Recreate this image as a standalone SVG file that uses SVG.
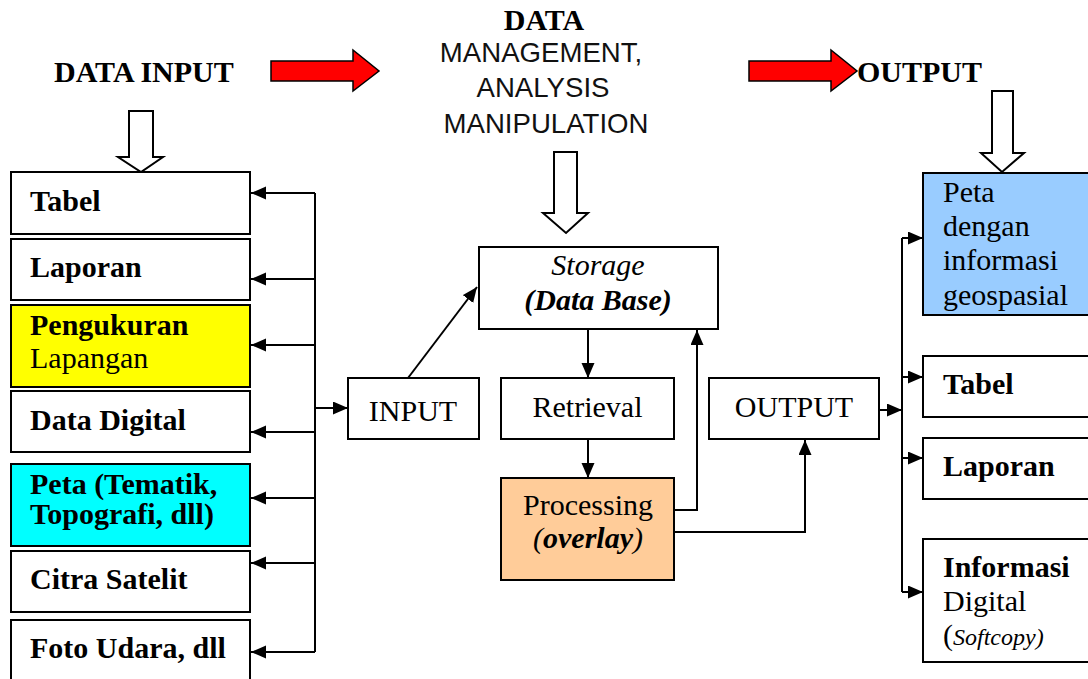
<svg xmlns="http://www.w3.org/2000/svg" width="1088" height="679" viewBox="0 0 1088 679">
  <style>
    .box { fill: #ffffff; stroke: #000000; stroke-width: 2; }
    .yellow { fill: #ffff00; }
    .cyan { fill: #00ffff; }
    .blue { fill: #99ccff; }
    .peach { fill: #ffcc99; }
    .t { font-family: "Liberation Serif", "Times New Roman", serif; font-size: 30px; fill: #000000; }
    .b { font-weight: bold; }
    .i { font-style: italic; }
    .s { font-family: "Liberation Sans", Arial, sans-serif; font-size: 27.6px; fill: #111111; }
    .conn { fill: none; stroke: #000000; stroke-width: 2; }
    .red { fill: #ff0000; stroke: #000000; stroke-width: 1.5; stroke-linejoin: miter; }
    .hollow { fill: #ffffff; stroke: #000000; stroke-width: 2; stroke-linejoin: miter; }
  </style>
  <defs>
    <marker id="ah" markerUnits="userSpaceOnUse" markerWidth="16" markerHeight="14" refX="15" refY="6.5" orient="auto">
      <path d="M0,0 L15,6.5 L0,13 Z" fill="#000000"/>
    </marker>
  </defs>

  <rect width="1088" height="679" fill="#ffffff"/>

  <!-- headings -->
  <g id="headings">
    <text class="t b" x="54" y="82">DATA INPUT</text>
    <text class="t b" x="544" y="30" text-anchor="middle">DATA</text>
    <text class="s" x="541" y="62" text-anchor="middle">MANAGEMENT,</text>
    <text class="s" x="543" y="97" text-anchor="middle">ANALYSIS</text>
    <text class="s" x="546" y="133" text-anchor="middle">MANIPULATION</text>
    <text class="t b" x="857" y="82">OUTPUT</text>
  </g>

  <!-- block arrows -->
  <g id="block-arrows">
    <polygon class="red" points="271,61 353,61 353,50 379,71 353,91 353,81 271,81"/>
    <polygon class="red" points="749,61 831,61 831,50 857,71 831,91 831,81 749,81"/>
    <polygon class="hollow" points="129,111 153,111 153,157 163,157 141,172 118,157 129,157"/>
    <polygon class="hollow" points="554,152 577,152 577,213 588,213 566,233 543,213 554,213"/>
    <polygon class="hollow" points="992,91 1013,91 1013,153 1024,153 1002,172 981,153 992,153"/>
  </g>

  <!-- input sources -->
  <g id="in-tabel">
    <rect class="box" x="11" y="172" width="239" height="62"/>
    <text class="t b" x="30" y="211">Tabel</text>
  </g>
  <g id="in-laporan">
    <rect class="box" x="11" y="239" width="239" height="61"/>
    <text class="t b" x="30" y="277">Laporan</text>
  </g>
  <g id="in-pengukuran">
    <rect class="box yellow" x="11" y="305" width="239" height="82"/>
    <text class="t b" x="30" y="335">Pengukuran</text>
    <text class="t" x="30" y="368">Lapangan</text>
  </g>
  <g id="in-digital">
    <rect class="box" x="11" y="391" width="239" height="61"/>
    <text class="t b" x="30" y="430">Data Digital</text>
  </g>
  <g id="in-peta">
    <rect class="box cyan" x="11" y="464" width="239" height="82"/>
    <text class="t b" x="30" y="494">Peta (Tematik,</text>
    <text class="t b" x="30" y="524">Topografi, dll)</text>
  </g>
  <g id="in-citra">
    <rect class="box" x="11" y="551" width="239" height="61"/>
    <text class="t b" x="30" y="589">Citra Satelit</text>
  </g>
  <g id="in-foto">
    <rect class="box" x="11" y="620" width="239" height="70"/>
    <text class="t b" x="30" y="658">Foto Udara, dll</text>
  </g>

  <!-- processing core -->
  <g id="input">
    <rect class="box" x="348" y="378" width="131" height="61"/>
    <text class="t" x="413" y="421" text-anchor="middle">INPUT</text>
  </g>
  <g id="storage">
    <rect class="box" x="479" y="247" width="239" height="82"/>
    <text class="t i" x="598" y="275" text-anchor="middle">Storage</text>
    <text class="t b i" x="598" y="310" text-anchor="middle">(Data Base)</text>
  </g>
  <g id="retrieval">
    <rect class="box" x="501" y="378" width="173" height="61"/>
    <text class="t" x="587.5" y="417" text-anchor="middle">Retrieval</text>
  </g>
  <g id="processing">
    <rect class="box peach" x="501" y="478" width="173" height="102"/>
    <text class="t" x="588" y="515" text-anchor="middle">Processing</text>
    <text class="t i" x="588" y="548" text-anchor="middle">(<tspan class="b">overlay</tspan>)</text>
  </g>
  <g id="output">
    <rect class="box" x="709" y="378" width="170" height="61"/>
    <text class="t" x="794" y="417" text-anchor="middle">OUTPUT</text>
  </g>

  <!-- output products -->
  <g id="out-peta">
    <rect class="box blue" x="923" y="173" width="175" height="142"/>
    <text class="t" x="943" y="202">Peta</text>
    <text class="t" x="943" y="236">dengan</text>
    <text class="t" x="943" y="270">informasi</text>
    <text class="t" x="943" y="305">geospasial</text>
  </g>
  <g id="out-tabel">
    <rect class="box" x="923" y="356" width="175" height="61"/>
    <text class="t b" x="943" y="394">Tabel</text>
  </g>
  <g id="out-laporan">
    <rect class="box" x="923" y="438" width="175" height="61"/>
    <text class="t b" x="943" y="476">Laporan</text>
  </g>
  <g id="out-digital">
    <rect class="box" x="923" y="539" width="175" height="123"/>
    <text class="t b" x="943" y="577">Informasi</text>
    <text class="t" x="943" y="611">Digital</text>
    <text class="t" x="943" y="645">(<tspan class="i" font-size="24">Softcopy)</tspan></text>
  </g>

  <!-- connectors -->
  <g id="connectors">
    <line class="conn" x1="315" y1="193" x2="315" y2="652"/>
    <line class="conn" x1="315" y1="193" x2="251" y2="193" marker-end="url(#ah)"/>
    <line class="conn" x1="315" y1="279" x2="251" y2="279" marker-end="url(#ah)"/>
    <line class="conn" x1="315" y1="345" x2="251" y2="345" marker-end="url(#ah)"/>
    <line class="conn" x1="315" y1="432" x2="251" y2="432" marker-end="url(#ah)"/>
    <line class="conn" x1="315" y1="498" x2="251" y2="498" marker-end="url(#ah)"/>
    <line class="conn" x1="315" y1="563" x2="251" y2="563" marker-end="url(#ah)"/>
    <line class="conn" x1="315" y1="652" x2="251" y2="652" marker-end="url(#ah)"/>
    <line class="conn" x1="315" y1="408" x2="348" y2="408" marker-end="url(#ah)"/>
    <line class="conn" x1="408" y1="378" x2="477" y2="287" marker-end="url(#ah)"/>
    <line class="conn" x1="588" y1="329" x2="588" y2="378" marker-end="url(#ah)"/>
    <line class="conn" x1="588" y1="439" x2="588" y2="478" marker-end="url(#ah)"/>
    <polyline class="conn" points="674,510 697,510 697,330" marker-end="url(#ah)"/>
    <polyline class="conn" points="674,532 805,532 805,440" marker-end="url(#ah)"/>
    <line class="conn" x1="879" y1="410" x2="902" y2="410" marker-end="url(#ah)"/>
    <line class="conn" x1="902" y1="238" x2="902" y2="592"/>
    <line class="conn" x1="902" y1="238" x2="923" y2="238" marker-end="url(#ah)"/>
    <line class="conn" x1="902" y1="377" x2="923" y2="377" marker-end="url(#ah)"/>
    <line class="conn" x1="902" y1="458" x2="923" y2="458" marker-end="url(#ah)"/>
    <line class="conn" x1="902" y1="592" x2="923" y2="592" marker-end="url(#ah)"/>
  </g>
</svg>
